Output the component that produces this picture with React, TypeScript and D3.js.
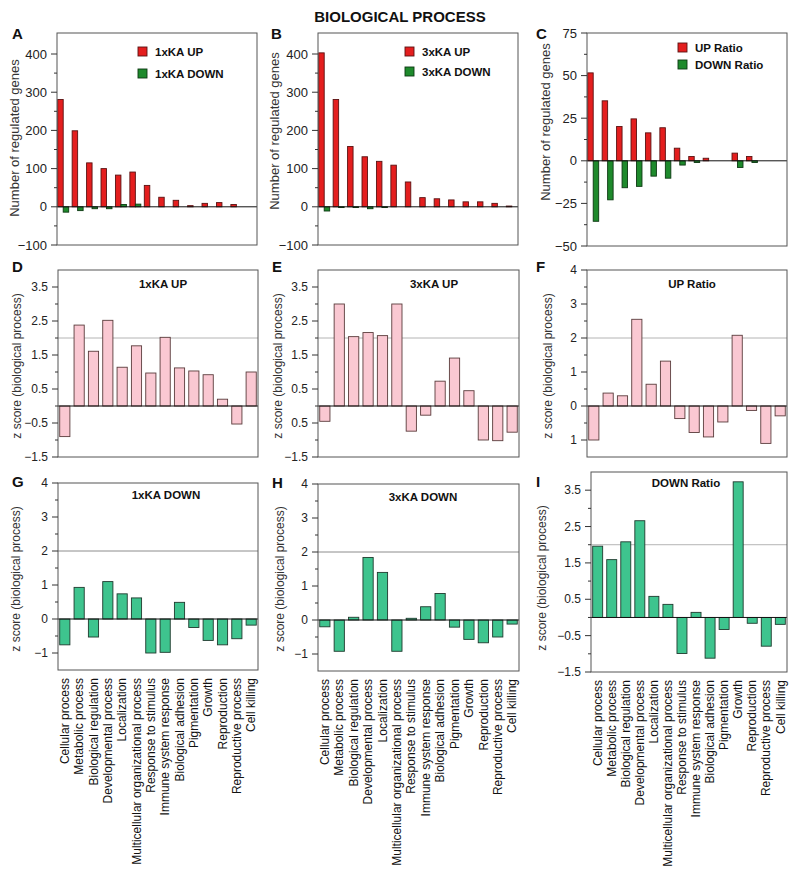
import React from "react";
import * as d3 from "d3";

// categories (x axis)
const categories = [
  "Cellular process",
  "Metabolic process",
  "Biological regulation",
  "Developmental process",
  "Localization",
  "Multicellular organizational process",
  "Response to stimulus",
  "Immune system response",
  "Biological adhesion",
  "Pigmentation",
  "Growth",
  "Reproduction",
  "Reproductive process",
  "Cell killing",
];

// top row: number of regulated genes
const up1x = [281, 199, 115, 100, 83, 91, 56, 25, 17, 3, 9, 11, 6, 0];
const down1x = [-14, -10, -5, -5, 6, 7, 0, 0, 0, 0, 0, 0, 0, 0];
const up3x = [403, 281, 158, 131, 119, 109, 65, 24, 21, 18, 13, 13, 9, 2];
const down3x = [-11, -2, -2, -5, -2, 0, 0, 0, 0, 0, 0, 0, 0, 0];
const upRatio = [51.6, 35.2, 20.1, 24.6, 16.4, 19.4, 7.4, 2.5, 1.5, 0, 4.5, 2.5, 0, 0];
const downRatio = [-35.5, -22.9, -15.8, -15, -9, -10.2, -2.5, -1, 0, 0, -3.9, -1, 0, 0];

// z scores
const z1xUp = [-0.9, 2.38, 1.61, 2.52, 1.14, 1.77, 0.97, 2.02, 1.12, 1.03, 0.92, 0.2, -0.53, 1.0];
const z3xUp = [-0.45, 3.0, 2.04, 2.16, 2.07, 3.0, -0.74, -0.27, 0.73, 1.41, 0.45, -1.0, -1.02, -0.77];
const zUpRatio = [-1.0, 0.38, 0.3, 2.55, 0.64, 1.32, -0.37, -0.78, -0.91, -0.47, 2.08, -0.13, -1.1, -0.29];
const z1xDown = [-0.76, 0.93, -0.53, 1.1, 0.74, 0.62, -1.0, -0.98, 0.49, -0.25, -0.63, -0.76, -0.58, -0.18];
const z3xDown = [-0.2, -0.92, 0.08, 1.84, 1.4, -0.92, 0.05, 0.39, 0.78, -0.21, -0.57, -0.67, -0.5, -0.12];
const zDownRatio = [1.96, 1.59, 2.08, 2.66, 0.58, 0.36, -0.99, 0.14, -1.12, -0.33, 3.73, -0.16, -0.79, -0.19];

// tick values / labels
const countTicks = [400, 300, 200, 100, 0, -100];
const countMinor = [350, 250, 150, 50, -50];
const ratioTicks = [75, 50, 25, 0, -25, -50];
const ratioMinor = [62.5, 37.5, 12.5, -12.5, -37.5];
const halfTicks = [3.5, 2.5, 1.5, 0.5, -0.5, -1.5];
const halfLabels = ["3.5", "2.5", "1.5", "0.5", "\u22120.5", "\u22121.5"];
const halfLabelsE = ["3.5", "2.5", "1.5", "0.5", "0.5", "\u22121.5"];
const intMinor = [3, 2, 1, 0, -1];
const intTicks = [4, 3, 2, 1, 0, -1];
const intLabels = ["4", "3", "2", "1", "0", "\u22121"];
const intLabelsF = ["4", "3", "2", "1", "0", "1"];
const halfMinor = [3.5, 2.5, 1.5, 0.5, -0.5];

const FONT = "'Liberation Sans', Arial, Helvetica, sans-serif";
const RED = "#e41e1e";
const RED_S = "#5a1212";
const GREEN = "#1e8a2c";
const GREEN_S = "#0d3812";
const PINK = "#fac8d2";
const PINK_S = "#5a3c3c";
const TEAL = "#3ec48e";
const TEAL_S = "#1f3a2e";

type Series = { values: number[]; fill: string; stroke: string };

interface PanelProps {
  x0: number;
  x1: number;
  y0: number;
  y1: number;
  domain: [number, number];
  ticks: number[];
  tickLabels: string[];
  minor: number[];
  series: Series[];
  letter: string;
  letterX: number;
  letterY: number;
  yLabel: string;
  yLabelX: number;
  yLabelY: number;
  yLabelSize: number;
  tickSize: number;
  title?: string;
  titleX?: number;
  titleY?: number;
  refLine?: { value: number; color: string };
  showCats?: boolean;
  legend?: { x: number; ys: number[]; labels: string[] };
}

const Panel = (p: PanelProps) => {
  const y = d3.scaleLinear().domain(p.domain).range([p.y1, p.y0]);
  const paired = p.series.length > 1;
  const x = d3
    .scaleBand<string>()
    .domain(categories)
    .range([p.x0, p.x1])
    .paddingInner(paired ? 0.24 : 0.29)
    .paddingOuter(paired ? 0.05 : 0.12);
  const sub = d3
    .scaleBand<number>()
    .domain(p.series.map((_, i) => i))
    .range([0, x.bandwidth()]);

  return (
    <g>
      {p.refLine && (
        <line
          x1={p.x0}
          x2={p.x1}
          y1={y(p.refLine.value)}
          y2={y(p.refLine.value)}
          stroke={p.refLine.color}
          strokeWidth={1}
        />
      )}
      {p.series.map((s, si) =>
        s.values.map((v, i) => {
          if (v === 0) return null;
          const bx = (x(categories[i]) as number) + (sub(si) as number);
          return (
            <rect
              key={`${si}-${i}`}
              x={bx}
              y={Math.min(y(v), y(0))}
              width={sub.bandwidth()}
              height={Math.abs(y(v) - y(0))}
              fill={s.fill}
              stroke={s.stroke}
              strokeWidth={0.9}
            />
          );
        })
      )}
      <line x1={p.x0} x2={p.x1} y1={y(0)} y2={y(0)} stroke="#111" strokeWidth={1} />
      <rect
        x={p.x0}
        y={p.y0}
        width={p.x1 - p.x0}
        height={p.y1 - p.y0}
        fill="none"
        stroke="#555"
        strokeWidth={1}
      />
      {p.ticks.map((t, i) => (
        <g key={`t${i}`}>
          <line x1={p.x0 - 6} x2={p.x0} y1={y(t)} y2={y(t)} stroke="#333" />
          <text
            x={p.x0 - 10}
            y={y(t)}
            dy="0.35em"
            textAnchor="end"
            fontSize={p.tickSize}
            fill="#222"
            fontFamily={FONT}
          >
            {p.tickLabels[i]}
          </text>
        </g>
      ))}
      {p.minor.map((t, i) => (
        <line key={`m${i}`} x1={p.x0 - 3} x2={p.x0} y1={y(t)} y2={y(t)} stroke="#333" />
      ))}
      <text
        transform={`translate(${p.yLabelX},${p.yLabelY}) rotate(-90)`}
        textAnchor="middle"
        dy="0.35em"
        fontSize={p.yLabelSize}
        fill="#333"
        fontFamily={FONT}
      >
        {p.yLabel}
      </text>
      <text x={p.letterX} y={p.letterY} fontSize={15} fontWeight="bold" fontFamily={FONT} fill="#111">
        {p.letter}
      </text>
      {p.title && (
        <text
          x={p.titleX}
          y={p.titleY}
          textAnchor="middle"
          fontSize={11.5}
          fontWeight="bold"
          fontFamily={FONT}
          fill="#111"
        >
          {p.title}
        </text>
      )}
      {p.legend &&
        p.legend.labels.map((lab, i) => (
          <g key={`l${i}`}>
            <rect
              x={p.legend!.x}
              y={p.legend!.ys[i]}
              width={9}
              height={9}
              fill={p.series[i].fill}
              stroke={p.series[i].stroke}
              strokeWidth={0.9}
            />
            <text
              x={p.legend!.x + 17}
              y={p.legend!.ys[i] + 9}
              fontSize={11.5}
              fontWeight="bold"
              fontFamily={FONT}
              fill="#111"
            >
              {lab}
            </text>
          </g>
        ))}
      {p.showCats &&
        categories.map((c) => (
          <text
            key={c}
            transform={`translate(${(x(c) as number) + x.bandwidth() / 2},${p.y1 + 8}) rotate(-90)`}
            textAnchor="end"
            dy="0.35em"
            fontSize={12}
            fill="#111"
            fontFamily={FONT}
          >
            {c}
          </text>
        ))}
    </g>
  );
};

const countDomain: [number, number] = [-100, 455];
const zDomain: [number, number] = [-1.5, 4];
const YL_TOP = "Number of regulated genes";
const YL_Z = "z score (biological process)";

export default function App() {
  return (
    <svg
      width={800}
      height={884}
      style={{ position: "absolute", left: 0, top: 0, background: "#fff" }}
    >
      <rect width={800} height={884} fill="#fff" />
      <text
        x={400}
        y={22}
        textAnchor="middle"
        fontSize={15}
        fontWeight="bold"
        fontFamily={FONT}
        fill="#111"
      >
        BIOLOGICAL PROCESS
      </text>

      {/* top row */}
      <Panel
        x0={57} x1={257} y0={33} y1={245} domain={countDomain}
        ticks={countTicks} tickLabels={countTicks.map((t) => (t < 0 ? `\u2212${-t}` : `${t}`))}
        minor={countMinor}
        series={[{ values: up1x, fill: RED, stroke: RED_S }, { values: down1x, fill: GREEN, stroke: GREEN_S }]}
        letter="A" letterX={12} letterY={39}
        yLabel={YL_TOP} yLabelX={14} yLabelY={138} yLabelSize={13} tickSize={13}
        legend={{ x: 138, ys: [47, 69], labels: ["1xKA UP", "1xKA DOWN"] }}
      />
      <Panel
        x0={318} x1={518} y0={33} y1={245} domain={countDomain}
        ticks={countTicks} tickLabels={countTicks.map((t) => (t < 0 ? `\u2212${-t}` : `${t}`))}
        minor={countMinor}
        series={[{ values: up3x, fill: RED, stroke: RED_S }, { values: down3x, fill: GREEN, stroke: GREEN_S }]}
        letter="B" letterX={271} letterY={39}
        yLabel={YL_TOP} yLabelX={274} yLabelY={131} yLabelSize={13} tickSize={13}
        legend={{ x: 405, ys: [47, 67], labels: ["3xKA UP", "3xKA DOWN"] }}
      />
      <Panel
        x0={587} x1={787} y0={33} y1={246} domain={[-50, 75]}
        ticks={ratioTicks} tickLabels={ratioTicks.map((t) => (t < 0 ? `\u2212${-t}` : `${t}`))}
        minor={ratioMinor}
        series={[{ values: upRatio, fill: RED, stroke: RED_S }, { values: downRatio, fill: GREEN, stroke: GREEN_S }]}
        letter="C" letterX={536} letterY={39}
        yLabel={YL_TOP} yLabelX={545} yLabelY={122} yLabelSize={13} tickSize={13}
        legend={{ x: 678, ys: [43, 60], labels: ["UP Ratio", "DOWN Ratio"] }}
      />

      {/* middle row */}
      <Panel
        x0={58} x1={258} y0={270} y1={457} domain={zDomain}
        ticks={halfTicks} tickLabels={halfLabels} minor={intMinor}
        series={[{ values: z1xUp, fill: PINK, stroke: PINK_S }]}
        letter="D" letterX={12} letterY={272}
        yLabel={YL_Z} yLabelX={17} yLabelY={366} yLabelSize={12} tickSize={12}
        title="1xKA UP" titleX={163} titleY={288}
        refLine={{ value: 2, color: "#b4b4b4" }}
      />
      <Panel
        x0={318} x1={519} y0={270} y1={457} domain={zDomain}
        ticks={halfTicks} tickLabels={halfLabelsE} minor={intMinor}
        series={[{ values: z3xUp, fill: PINK, stroke: PINK_S }]}
        letter="E" letterX={272} letterY={272}
        yLabel={YL_Z} yLabelX={278} yLabelY={366} yLabelSize={12} tickSize={12}
        title="3xKA UP" titleX={434} titleY={288}
        refLine={{ value: 2, color: "#b4b4b4" }}
      />
      <Panel
        x0={587} x1={787} y0={270} y1={457} domain={zDomain}
        ticks={intTicks} tickLabels={intLabelsF} minor={halfMinor}
        series={[{ values: zUpRatio, fill: PINK, stroke: PINK_S }]}
        letter="F" letterX={536} letterY={272}
        yLabel={YL_Z} yLabelX={548} yLabelY={366} yLabelSize={12} tickSize={12}
        title="UP Ratio" titleX={692} titleY={288}
        refLine={{ value: 2, color: "#b4b4b4" }}
      />

      {/* bottom row */}
      <Panel
        x0={58} x1={258} y0={483} y1={670} domain={zDomain}
        ticks={intTicks} tickLabels={intLabels} minor={halfMinor}
        series={[{ values: z1xDown, fill: TEAL, stroke: TEAL_S }]}
        letter="G" letterX={12} letterY={487}
        yLabel={YL_Z} yLabelX={16} yLabelY={579} yLabelSize={12} tickSize={12}
        title="1xKA DOWN" titleX={166} titleY={499}
        refLine={{ value: 2, color: "#8c8c8c" }}
        showCats
      />
      <Panel
        x0={318} x1={519} y0={484} y1={671} domain={zDomain}
        ticks={intTicks} tickLabels={intLabels} minor={halfMinor}
        series={[{ values: z3xDown, fill: TEAL, stroke: TEAL_S }]}
        letter="H" letterX={272} letterY={488}
        yLabel={YL_Z} yLabelX={280} yLabelY={579} yLabelSize={12} tickSize={12}
        title="3xKA DOWN" titleX={423} titleY={501}
        refLine={{ value: 2, color: "#8c8c8c" }}
        showCats
      />
      <Panel
        x0={591} x1={787} y0={472} y1={672} domain={zDomain}
        ticks={halfTicks} tickLabels={halfLabels} minor={intMinor}
        series={[{ values: zDownRatio, fill: TEAL, stroke: TEAL_S }]}
        letter="I" letterX={536} letterY={487}
        yLabel={YL_Z} yLabelX={542} yLabelY={578} yLabelSize={12} tickSize={12}
        title="DOWN Ratio" titleX={686} titleY={487}
        refLine={{ value: 2, color: "#b4b4b4" }}
        showCats
      />
    </svg>
  );
}
